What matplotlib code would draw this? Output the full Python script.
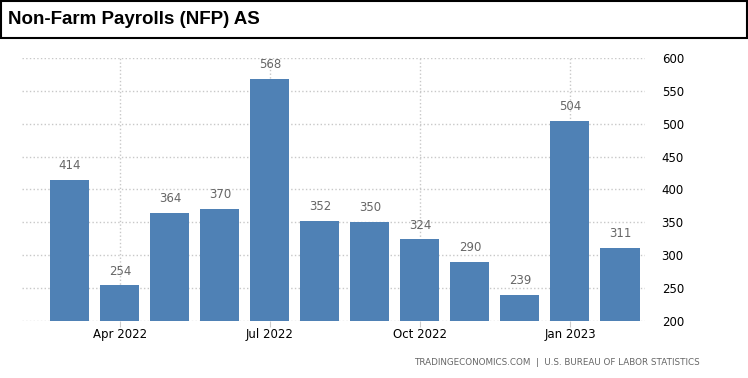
import matplotlib.pyplot as plt
from matplotlib.patches import Rectangle

months = ['Mar 2022', 'Apr 2022', 'May 2022', 'Jun 2022', 'Jul 2022', 'Aug 2022',
          'Sep 2022', 'Oct 2022', 'Nov 2022', 'Dec 2022', 'Jan 2023', 'Feb 2023']
payrolls = [414, 254, 364, 370, 568, 352, 350, 324, 290, 239, 504, 311]
tick_idx = [1, 4, 7, 10]
yticks = [200, 250, 300, 350, 400, 450, 500, 550, 600]

plt.rcParams['font.family'] = ['DejaVu Sans']

fig = plt.figure(figsize=(7.48, 3.78), dpi=100)

# title box
fig.patches.append(Rectangle((0.001, 0.9), 0.997, 0.097, transform=fig.transFigure,
                             fill=False, edgecolor='black', linewidth=1.5))
fig.text(0.011, 0.948, 'Non-Farm Payrolls (NFP) AS', fontsize=13.5, fontweight='bold',
         family='Liberation Sans', va='center', ha='left')

ax = fig.add_axes([0.0294, 0.1508, 0.8329, 0.6958])
x = list(range(len(payrolls)))
bars = ax.bar(x, payrolls, width=0.78, color='#4f81b5', zorder=3)
for xi, v in zip(x, payrolls):
    ax.text(xi, v + 12, str(v), ha='center', va='bottom', fontsize=8.5, color='#666666', zorder=4)

ax.set_ylim(200, 600)
ax.set_xlim(-0.96, 11.5)
ax.set_yticks(yticks)
ax.set_xticks(tick_idx)
ax.set_xticklabels([months[i] for i in tick_idx])
ax.yaxis.tick_right()
ax.tick_params(axis='y', length=0, labelsize=8.5, pad=12)
ax.tick_params(axis='x', length=4, color='#cccccc', labelsize=8.5, pad=1)
ax.grid(True, linestyle=':', color='#c8c8c8', linewidth=1, zorder=0)
for s in ax.spines.values():
    s.set_visible(False)

fig.text(0.935, 0.04, 'TRADINGECONOMICS.COM  |  U.S. BUREAU OF LABOR STATISTICS',
         fontsize=6.3, color='#666666', ha='right', va='center')

fig.savefig('out.png', dpi=100)
